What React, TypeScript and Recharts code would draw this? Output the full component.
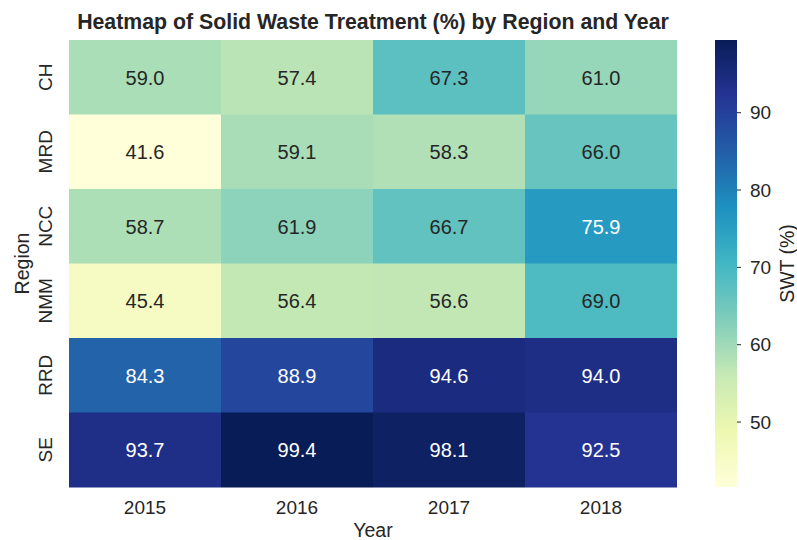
import React from 'react'
import { BarChart, Bar, XAxis, YAxis, Cell, LabelList } from 'recharts'

const regions = ['CH', 'MRD', 'NCC', 'NMM', 'RRD', 'SE']
const years = ['2015', '2016', '2017', '2018']
const swt2015 = [59.0, 41.6, 58.7, 45.4, 84.3, 93.7]
const swt2016 = [57.4, 59.1, 61.9, 56.4, 88.9, 99.4]
const swt2017 = [67.3, 58.3, 66.7, 56.6, 94.6, 98.1]
const swt2018 = [61.0, 66.0, 75.9, 69.0, 94.0, 92.5]
const colorbarTicks = [50, 60, 70, 80, 90]

const series = [swt2015, swt2016, swt2017, swt2018]

// YlGnBu (colorbrewer 9)
const ylGnBu = ['#ffffd9', '#edf8b1', '#c7e9b4', '#7fcdbb', '#41b6c4', '#1d91c0', '#225ea8', '#253494', '#081d58']

const all = series.flat()
const vmin = Math.min(...all)
const vmax = Math.max(...all)

const FONT = '"Liberation Sans", Arial, sans-serif'
const INK = '#262626'

function hexToRgb(h: string) {
  return [1, 3, 5].map((i) => parseInt(h.slice(i, i + 2), 16) / 255)
}

function cmapRgb(v: number) {
  let t = (v - vmin) / (vmax - vmin)
  t = Math.max(0, Math.min(1, t))
  const pos = t * (ylGnBu.length - 1)
  const i = Math.min(Math.floor(pos), ylGnBu.length - 2)
  const f = pos - i
  const a = hexToRgb(ylGnBu[i])
  const b = hexToRgb(ylGnBu[i + 1])
  return a.map((c, k) => c + (b[k] - c) * f)
}

function cmap(v: number) {
  const rgb = cmapRgb(v)
  return `rgb(${rgb.map((c) => Math.round(c * 255)).join(',')})`
}

// same rule as seaborn for the annotation colour
function textColor(v: number) {
  const lin = cmapRgb(v).map((c) => (c <= 0.03928 ? c / 12.92 : Math.pow((c + 0.055) / 1.055, 2.4)))
  const lum = 0.2126 * lin[0] + 0.7152 * lin[1] + 0.0722 * lin[2]
  return lum > 0.408 ? INK : '#ffffff'
}

const rows = regions.map((region, i) => {
  const row: any = { region }
  years.forEach((_, j) => {
    row[`c${j}`] = 1
    row[`v${j}`] = series[j][i]
  })
  return row
})

const W = 797
const H = 540
const plot = { left: 69, top: 40, right: 677, bottom: 487 }
const cbar = { x: 715, w: 22 }

function renderCellLabel(props: any) {
  const { x, y, width, height, value } = props
  return (
    <text
      x={Number(x) + Number(width) / 2}
      y={Number(y) + Number(height) / 2}
      textAnchor="middle"
      dominantBaseline="central"
      fontSize={20}
      fontFamily={FONT}
      fill={textColor(Number(value))}
    >
      {Number(value).toFixed(1)}
    </text>
  )
}

function YTick(props: any) {
  const { x, y, payload } = props
  const cx = x - 24
  return (
    <text
      x={cx}
      y={y}
      transform={`rotate(-90 ${cx} ${y})`}
      textAnchor="middle"
      dominantBaseline="central"
      fontSize={19}
      fontFamily={FONT}
      fill={INK}
    >
      {payload.value}
    </text>
  )
}

function XTick(props: any) {
  const { x, y, payload } = props
  return (
    <text x={x} y={y} dy={27} textAnchor="middle" fontSize={19} fontFamily={FONT} fill={INK}>
      {years[Math.floor(payload.value)]}
    </text>
  )
}

export default function App() {
  const cbY = (v: number) => plot.top + ((vmax - v) / (vmax - vmin)) * (plot.bottom - plot.top)
  const midX = (plot.left + plot.right) / 2
  const midY = (plot.top + plot.bottom) / 2
  return (
    <div style={{ position: 'absolute', left: 0, top: 0, width: W, height: H, background: '#fff' }}>
      <BarChart
        width={W}
        height={H}
        data={rows}
        layout="vertical"
        barCategoryGap={0}
        barGap={0}
        margin={{ top: plot.top, right: W - plot.right, bottom: 0, left: 0 }}
      >
        <XAxis
          type="number"
          domain={[0, 4]}
          ticks={[0.5, 1.5, 2.5, 3.5]}
          height={H - plot.bottom}
          axisLine={false}
          tickLine={false}
          tickSize={0}
          tickMargin={0}
          tick={<XTick />}
          allowDataOverflow
        />
        <YAxis
          type="category"
          dataKey="region"
          width={plot.left}
          axisLine={false}
          tickLine={false}
          tickSize={0}
          tickMargin={0}
          tick={<YTick />}
        />
        {years.map((yr, j) => (
          <Bar key={yr} dataKey={`c${j}`} stackId="s" isAnimationActive={false}>
            {rows.map((row, i) => (
              <Cell key={i} fill={cmap(series[j][i])} />
            ))}
            <LabelList dataKey={`v${j}`} content={renderCellLabel} />
          </Bar>
        ))}
      </BarChart>
      <svg width={W} height={H} style={{ position: 'absolute', left: 0, top: 0, pointerEvents: 'none' }}>
        <defs>
          <linearGradient id="cb" x1="0" y1="1" x2="0" y2="0">
            {ylGnBu.map((c, i) => (
              <stop key={i} offset={i / (ylGnBu.length - 1)} stopColor={c} />
            ))}
          </linearGradient>
        </defs>
        <text x={midX} y={29} textAnchor="middle" fontSize={21.3} fontWeight="bold" fontFamily={FONT} fill={INK}>
          Heatmap of Solid Waste Treatment (%) by Region and Year
        </text>
        <text
          x={22}
          y={midY}
          transform={`rotate(-90 22 ${midY})`}
          textAnchor="middle"
          dominantBaseline="central"
          fontSize={19.5}
          fontFamily={FONT}
          fill={INK}
        >
          Region
        </text>
        <text x={midX} y={537} textAnchor="middle" fontSize={19.5} fontFamily={FONT} fill={INK}>
          Year
        </text>
        <rect x={cbar.x} y={plot.top} width={cbar.w} height={plot.bottom - plot.top} fill="url(#cb)" />
        {colorbarTicks.map((t) => (
          <g key={t}>
            <line x1={cbar.x + cbar.w} x2={cbar.x + cbar.w + 4} y1={cbY(t)} y2={cbY(t)} stroke={INK} strokeWidth={1} />
            <text x={cbar.x + cbar.w + 13} y={cbY(t)} dominantBaseline="central" fontSize={19} fontFamily={FONT} fill={INK}>
              {t}
            </text>
          </g>
        ))}
        <text
          x={787}
          y={midY}
          transform={`rotate(-90 787 ${midY})`}
          textAnchor="middle"
          dominantBaseline="central"
          fontSize={19.5}
          fontFamily={FONT}
          fill={INK}
        >
          SWT (%)
        </text>
      </svg>
    </div>
  )
}
